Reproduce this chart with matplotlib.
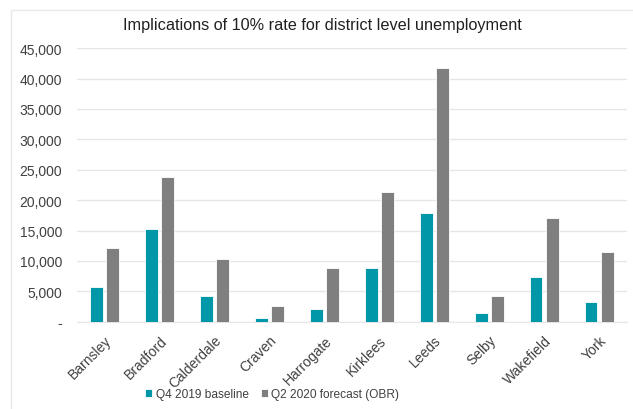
import matplotlib
import numpy as np

matplotlib.use("Agg")
matplotlib.rcParams["font.family"] = ["Liberation Sans", "DejaVu Sans"]
import matplotlib.pyplot as plt  # noqa: E402
from matplotlib.patches import Rectangle  # noqa: E402
from matplotlib.ticker import FuncFormatter  # noqa: E402

DISTRICTS = ["Barnsley", "Bradford", "Calderdale", "Craven", "Harrogate",
             "Kirklees", "Leeds", "Selby", "Wakefield", "York"]
BASELINE = [5700, 15200, 4200, 660, 2100, 8800, 17900, 1400, 7350, 3200]
FORECAST = [12100, 23800, 10300, 2600, 8800, 21300, 41700, 4300, 17000, 11500]
SERIES = ["Q4 2019 baseline", "Q2 2020 forecast (OBR)"]
TEAL = "#0097A9"
GREY = "#7F7F7F"


def fmt(v, _):
    return "-" if v == 0 else f"{v:,.0f}"


fig = plt.figure(figsize=(6.33, 4.10), dpi=100)

# faint chart-area border (only top/left visible in the original crop)
fig.add_artist(Rectangle((11 / 633, -0.01), 1.0, 1 - 11 / 410 + 0.01,
                         transform=fig.transFigure, fill=False,
                         edgecolor="#E8E8E8", lw=1))

ax = fig.add_axes([0.122, 0.213, 0.868, 0.667])

x = np.arange(len(DISTRICTS))
w = 0.23
gap = 0.065
ax.bar(x - (w + gap) / 2, BASELINE, w, color=TEAL, edgecolor="white", lw=0.6,
       label=SERIES[0], zorder=3)
ax.bar(x + (w + gap) / 2, FORECAST, w, color=GREY, edgecolor="white", lw=0.6,
       label=SERIES[1], zorder=3)

ax.set_xlim(-0.5, len(DISTRICTS) - 0.5)
ax.set_ylim(0, 45000)
ax.set_yticks(range(0, 45001, 5000))
ax.yaxis.set_major_formatter(FuncFormatter(fmt))
ax.grid(axis="y", color="#E6E6E6", lw=1, zorder=0)
for s in ax.spines.values():
    s.set_visible(False)
ax.spines["bottom"].set_visible(True)
ax.spines["bottom"].set_color("#E6E6E6")
ax.tick_params(length=0, labelsize=10, colors="#404040")
ax.tick_params(axis="y", pad=11)
ax.set_xticks(x)
ax.set_xticklabels(DISTRICTS, rotation=45, ha="right", rotation_mode="anchor")
ax.tick_params(axis="x", pad=8)

fig.text(0.51, 0.937, "Implications of 10% rate for district level unemployment",
         ha="center", va="center", fontsize=11.7, color="#202020")

fig.legend(loc="lower center", bbox_to_anchor=(0.43, -0.005), ncol=2, frameon=False,
           fontsize=8.6, handlelength=0.6, handleheight=0.6, handletextpad=0.3,
           columnspacing=1.0, labelcolor="#404040")

fig.savefig("out.png", dpi=100)
